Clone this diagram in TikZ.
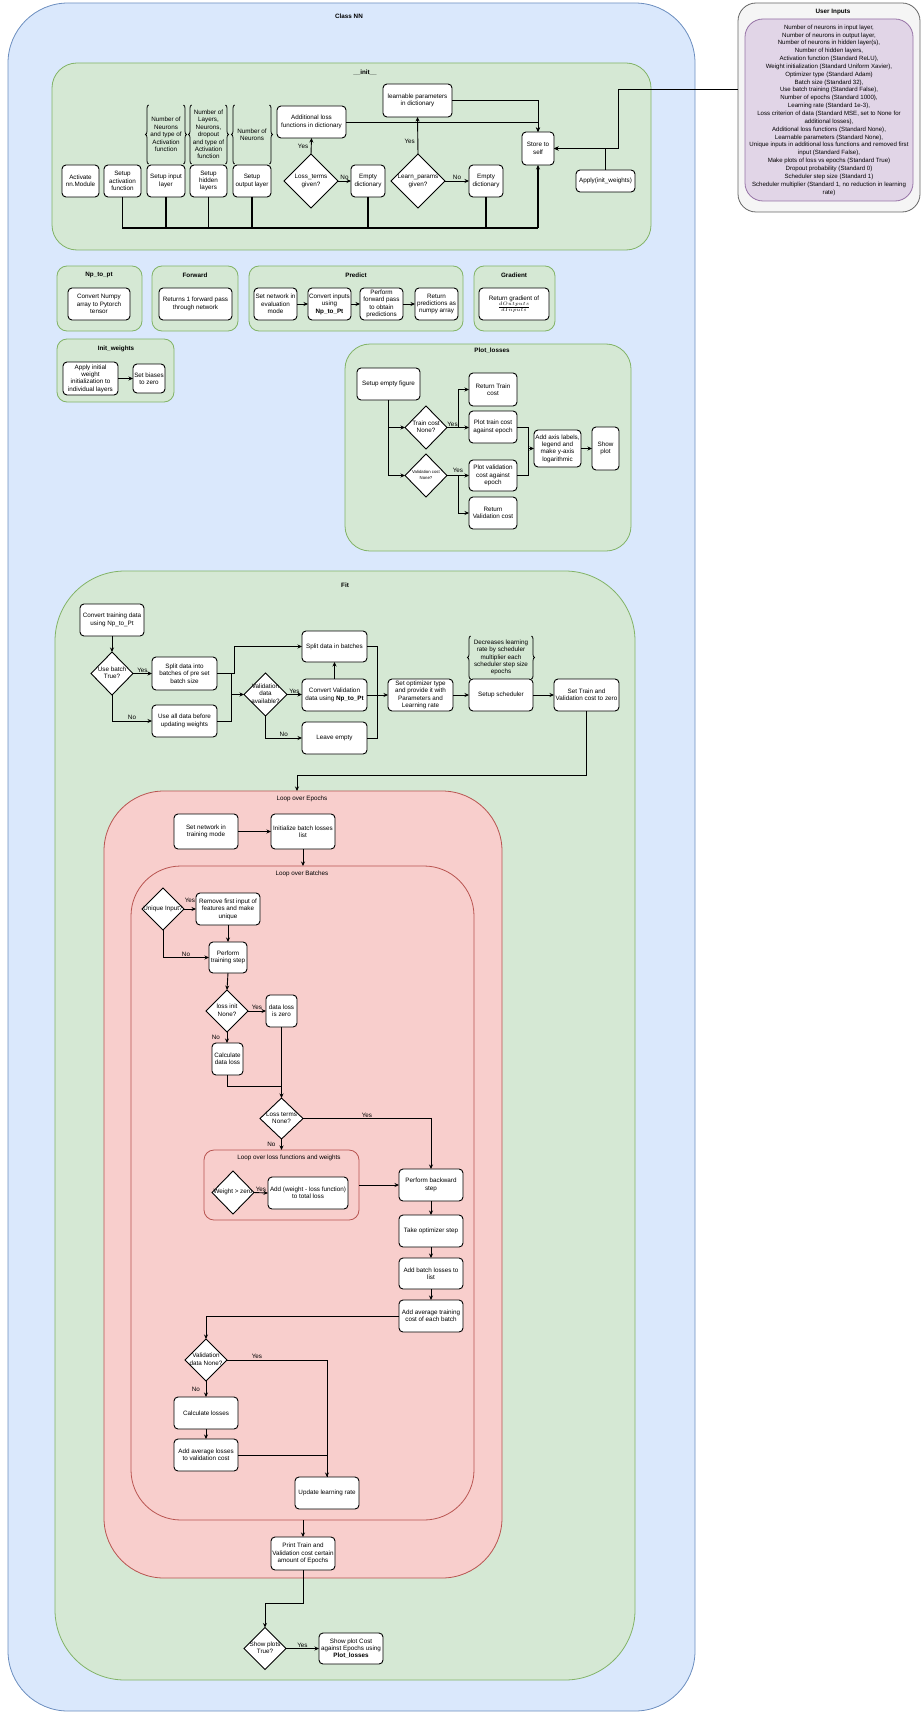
\documentclass[tikz,border=0pt]{standalone}
\usepackage{fontspec}
\setmainfont{Liberation Sans}
\usetikzlibrary{shapes.geometric,arrows.meta,decorations.pathreplacing,calc}
\definecolor{bluef}{HTML}{DAE8FC}\definecolor{blued}{HTML}{6C8EBF}
\definecolor{greenf}{HTML}{D5E8D4}\definecolor{greend}{HTML}{82B366}
\definecolor{redf}{HTML}{F8CECC}\definecolor{redd}{HTML}{B85450}
\definecolor{purpf}{HTML}{E1D5E7}\definecolor{purpd}{HTML}{9673A6}
\definecolor{grayf}{HTML}{F5F5F5}\definecolor{grayd}{HTML}{666666}
\newcommand\fs{\fontsize{6.3}{7.4}\selectfont}
\newcommand\fss{\fontsize{6.1}{7.85}\selectfont}
\newcommand\fxs{\fontsize{4.3}{5.2}\selectfont}
\newcommand\dtxt[1]{\makebox[0pt]{\begin{tabular}{@{}c@{}}#1\end{tabular}}}
\newcommand\mkbx[7][]{\node[box,#1,minimum width={#5-#3},minimum height={#6-#4}] (#2) at ({(#3+#5)/2},{(#4+#6)/2}) {#7};}
\newcommand\mkdm[7][]{\node[dia,#1,minimum width={#5},minimum height={#6}] (#2) at (#3,#4) {\dtxt{#7}};}
\newcommand\mkct[7]{\node[cont=#2,rounded corners=#7pt,minimum width={#5-#3},minimum height={#6-#4}] (#1) at ({(#3+#5)/2},{(#4+#6)/2}) {};}
\tikzset{
  every node/.style={font=\fs,outer sep=0pt},
  box/.style={draw,fill=white,rounded corners=4pt,line width=0.9pt,align=center,inner sep=1pt},
  dia/.style={draw,fill=white,diamond,line width=0.9pt,inner sep=0pt},
  cont/.style={draw=#1d,fill=#1f,line width=0.8pt,inner sep=0pt},
  ttl/.style={font=\fs\bfseries,inner sep=0pt},
  sttl/.style={font=\fs,inner sep=0pt},
  brt/.style={align=center,inner sep=0pt},
  lab/.style={font=\fs,inner sep=1pt},
  ln/.style={line width=0.9pt},
  arr/.style={ln,-{Stealth[length=4.5pt,width=4pt]}},
  bus/.style={line width=1.4pt},
  busarr/.style={line width=1.4pt,-{Stealth[length=4.5pt,width=4pt]}},
  brc/.style={decorate,decoration={brace,amplitude=3pt},line width=0.8pt},
}
\begin{document}
\begin{tikzpicture}[x=1pt,y=-1pt]
\useasboundingbox (0,0) rectangle (921,1712);
\clip (0,0) rectangle (921,1712);
% ---------- containers ----------
\mkct{classnn}{blue}{8}{3}{695}{1711}{60}
\node[ttl] (tclass) at (349,16) {Class NN};
\mkct{uio}{gray}{738}{3}{920}{212}{18}
\node[ttl] (tui) at (833,12) {User Inputs};
\node[cont=purp,rounded corners=18pt,minimum width=168,minimum height=182,align=center,font=\fss] (uii) at (829,110)
 {Number of neurons in input layer,\\Number of neurons in output layer,\\Number of neurons in hidden layer(s),\\Number of hidden layers,\\Activation function (Standard ReLU),\\Weight initialization (Standard Uniform Xavier),\\Optimizer type (Standard Adam)\\Batch size (Standard 32),\\Use batch training (Standard False),\\Number of epochs (Standard 1000),\\Learning rate (Standard 1e-3),\\Loss criterion of data (Standard MSE, set to None for\\additional losses),\\Additional loss functions (Standard None),\\Learnable parameters (Standard None),\\Unique inputs in additional loss functions and removed first\\input (Standard False),\\Make plots of loss vs epochs (Standard True)\\Dropout probability (Standard 0)\\Scheduler step size (Standard 1)\\Scheduler multiplier (Standard 1, no reduction in learning\\rate)};
\mkct{init}{green}{52}{63}{651}{250}{25}
\node[ttl] (tinit) at (365,73) {\_\_init\_\_};
\mkct{cnp}{green}{57}{266}{142}{331}{10}
\node[ttl] (tnp) at (99,275) {Np\_to\_pt};
\mkct{cfw}{green}{152}{266}{238}{331}{10}
\node[ttl] (tfw) at (195,275) {Forward};
\mkct{cpr}{green}{249}{266}{463}{331}{10}
\node[ttl] (tpr) at (356,275) {Predict};
\mkct{cgr}{green}{474}{266}{555}{331}{10}
\node[ttl] (tgr) at (514,275) {Gradient};
\mkct{ciw}{green}{57}{339}{174}{402}{10}
\node[ttl] (tiw) at (116,349) {Init\_weights};
\mkct{cpl}{green}{345}{344}{631}{551}{25}
\node[ttl] (tpl) at (492,351) {Plot\_losses};
\mkct{cfit}{green}{55}{571}{635}{1680}{70}
\node[ttl] (tfit) at (345,585) {Fit};
\mkct{cep}{red}{104}{791}{502}{1578}{60}
\node[sttl] (tep) at (302,799) {Loop over Epochs};
\mkct{cba}{red}{131}{866}{474}{1520}{50}
\node[sttl] (tba) at (302,874) {Loop over Batches};
\mkct{clf}{red}{204}{1150}{359}{1220}{10}
\node[sttl] (tlf) at (289,1158) {Loop over loss functions and weights};
% ---------- __init__ ----------
\mkbx{an}{62}{165}{99}{197}{Activate\\nn.Module}
\mkbx{sa}{104}{165}{141}{197}{Setup\\activation\\function}
\mkbx{si}{147}{165}{185}{197}{Setup input\\layer}
\mkbx{sh}{190}{165}{227}{197}{Setup\\hidden\\layers}
\mkbx{so}{233}{165}{271}{197}{Setup\\output layer}
\node[brt,minimum width=38,minimum height=59] (nb1) at (166,134.5) {Number of\\Neurons\\and type of\\Activation\\function};
\node[brt,minimum width=37,minimum height=59] (nb2) at (208.5,134.5) {Number of\\Layers,\\Neurons,\\dropout\\and type of\\Activation\\function};
\node[brt,minimum width=38,minimum height=59] (nb3) at (252,134.5) {Number of\\Neurons};
\foreach \n in {nb1,nb2,nb3}{
  \draw[brc] ([xshift=1.5pt]\n.south west) -- ([xshift=1.5pt]\n.north west);
  \draw[brc] ([xshift=-1.5pt]\n.north east) -- ([xshift=-1.5pt]\n.south east);
}
\mkbx{al}{277}{106}{346}{138}{Additional loss\\functions in dictionary}
\mkdm{ltd}{311}{181}{54}{54}{Loss\_terms\\given?}
\mkbx{ed1}{351}{165}{385}{197}{Empty\\dictionary}
\mkdm{lpd}{418}{181}{54}{54}{Learn\_params\\given?}
\mkbx{lp}{383}{84}{452}{117}{learnable parameters\\in dictionary}
\mkbx{ed2}{469}{165}{503}{197}{Empty\\dictionary}
\mkbx{st}{522}{132}{554}{165}{Store to\\self}
\mkbx{ap}{576}{170}{635}{192}{Apply(init\_weights)}
\coordinate (bus) at (0,228);
\draw[bus] (sa.south) |- (st.south |- bus);
\foreach \n in {si,sh,so,ed1,ed2}{\draw[bus] (\n.south) -- (\n.south |- bus);}
\draw[busarr] (st.south |- bus) -- (st.south);
\draw[arr] (ltd.north) -- (al.south) node[lab,midway,left=2pt] {Yes};
\draw[arr] (ltd.east) -- (ed1.west) node[lab,midway,above] {No};
\draw[arr] (lpd.north) -- (lp.south) node[lab,pos=0.35,left=2pt] {Yes};
\draw[arr] (lpd.east) -- (ed2.west) node[lab,midway,above] {No};
\draw[arr] (al.east) -| (st.north);
\draw[arr] (lp.east) -| (st.north);
\draw[arr] (ap.north) |- (st.east);
\coordinate (y89) at (0,89);
\coordinate (uj) at (618,148.5);
\draw[arr] (uio.west |- y89) -| (uj) -- (st.east);
% ---------- row 2 ----------
\mkbx{cn}{68}{288}{130}{320}{Convert Numpy\\array to Pytorch\\tensor}
\mkbx{fw}{159}{288}{232}{320}{Returns 1 forward pass\\through network}
\mkbx{pe1}{254}{288}{297}{320}{Set network in\\evaluation\\mode}
\mkbx{pe2}{308}{288}{351}{320}{Convert inputs\\using\\\textbf{Np\_to\_Pt}}
\mkbx{pe3}{360}{288}{403}{320}{Perform\\forward pass\\to obtain\\predictions}
\mkbx{pe4}{415}{288}{458}{320}{Return\\predictions as\\numpy array}
\draw[arr] (pe1.east) -- (pe2.west);
\draw[arr] (pe2.east) -- (pe3.west);
\draw[arr] (pe3.east) -- (pe4.west);
\mkbx{gr}{479}{288}{549}{320}{Return gradient of\\$\frac{dOutputs}{dInputs}$}
\mkbx{aw}{63}{362}{118}{395}{Apply initial\\weight\\initialization to\\individual layers}
\mkbx{sb}{133}{364}{165}{393}{Set biases\\to zero}
\draw[arr] (aw.east) -- (sb.west);
% ---------- Plot_losses ----------
\mkbx{sef}{357}{368}{420}{400}{Setup empty figure}
\mkdm{tcd}{426}{427.5}{42}{43}{Train cost\\None?}
\mkdm[font=\fxs]{vcd}{426}{475.5}{42}{43}{Validation cost\\None?}
\mkbx{rtc}{469}{373}{517}{406}{Return Train\\cost}
\mkbx{ptc}{469}{411}{517}{443}{Plot train cost\\against epoch}
\mkbx{pvc}{469}{460}{517}{491}{Plot validation\\cost against\\epoch}
\mkbx{rvc}{469}{497}{517}{529}{Return\\Validation cost}
\mkbx{aal}{534}{430}{581}{467}{Add axis labels,\\legend and\\make y-axis\\logarithmic}
\mkbx{shp}{592}{427}{619}{470}{Show\\plot}
\draw[ln] (sef.south) -- (sef.south |- vcd.west);
\draw[arr] (sef.south |- tcd.west) -- (tcd.west);
\draw[arr] (sef.south |- vcd.west) -- (vcd.west);
\coordinate (tj) at (458,427.5);
\coordinate (vj) at (458,475.5);
\coordinate (pj) at (528,448.5);
\draw[arr] (tcd.east) -- (tcd.east -| ptc.west) node[lab,pos=0.25,above] {Yes};
\draw[arr] (tj) |- (rtc.west);
\draw[arr] (vcd.east) -- (pvc.west) node[lab,pos=0.5,above=2pt] {Yes};
\draw[arr] (vj) |- (rvc.west);
\draw[ln] (ptc.east) -| (pj);
\draw[ln] (pvc.east) -| (pj);
\draw[arr] (pj) -- (aal.west);
\draw[arr] (aal.east) -- (aal.east -| shp.west);
% ---------- Fit ----------
\mkbx{ctd}{80}{604}{144}{636}{Convert training data\\using Np\_to\_Pt}
\mkdm{ub}{112}{673.5}{42}{43}{Use batch\\True?}
\mkbx{sdb}{152}{657}{217}{690}{Split data into\\batches of pre set\\batch size}
\mkbx{uad}{152}{705}{217}{737}{Use all data before\\updating weights}
\mkdm{vd}{265.5}{694.5}{43}{43}{Validation\\data\\available?}
\mkbx{sdib}{302}{631}{367}{662}{Split data in batches}
\mkbx{cvd}{302}{679}{367}{711}{Convert Validation\\data using \textbf{Np\_to\_Pt}}
\mkbx{le}{302}{722}{367}{754}{Leave empty}
\mkbx{sot}{388}{679}{453}{711}{Set optimizer type\\and provide it with\\Parameters and\\Learning rate}
\mkbx{ssc}{469}{679}{533}{711}{Setup scheduler}
\node[brt,minimum width=64,minimum height=43] (nb4) at (501,657.5) {Decreases learning\\rate by scheduler\\multiplier each\\scheduler step size\\epochs};
\draw[brc] ([xshift=1.5pt]nb4.south west) -- ([xshift=1.5pt]nb4.north west);
\draw[brc] ([xshift=-1.5pt]nb4.north east) -- ([xshift=-1.5pt]nb4.south east);
\mkbx{stv}{554}{679}{619}{711}{Set Train and\\Validation cost to zero}
\draw[arr] (ctd.south) -- (ub.north);
\draw[arr] (ub.east) -- (ub.east -| sdb.west) node[lab,midway,above] {Yes};
\draw[arr] (ub.south) |- (uad.west) node[lab,pos=0.75,above] {No};
\coordinate (fj0) at (234,673.5);
\coordinate (fj1) at (231,694.5);
\coordinate (fj2) at (377,695);
\draw[ln] (sdb.east) -| (fj1);
\draw[ln] (uad.east) -| (fj1);
\draw[arr] (fj1) -- (vd.west);
\draw[arr] (fj0) |- (sdib.west);
\draw[ln] (sdb.east) -- (fj0);
\draw[arr] (vd.east) -- (vd.east -| cvd.west) node[lab,midway,above] {Yes};
\draw[arr] (vd.south) |- (le.west) node[lab,pos=0.75,above] {No};
\draw[arr] (cvd.north) -- (sdib.south);
\draw[ln] (sdib.east) -| (fj2);
\draw[ln] (le.east) -| (fj2);
\draw[arr] (cvd.east) -- (sot.west);
\draw[arr] (sot.east) -- (ssc.west);
\draw[arr] (ssc.east) -- (stv.west);
\coordinate (ej) at (297,775);
\draw[arr] (stv.south) |- (ej) -- (ej |- cep.north);
% ---------- Loop over Epochs ----------
\mkbx{snt}{174}{814}{238}{849}{Set network in\\training mode}
\mkbx{ibl}{271}{814}{335}{849}{Initialize batch losses\\list}
\draw[arr] (snt.east) -- (ibl.west);
\draw[arr] (ibl.south) -- (ibl.south |- cba.north);
% ---------- Loop over Batches ----------
\mkdm{uqd}{163}{909}{42}{42}{Unique Input?}
\mkbx{rfi}{196}{893}{260}{925}{Remove first input of\\features and make\\unique}
\mkbx{pts}{209}{942}{247}{973}{Perform\\training step}
\mkdm{lin}{227}{1011}{42}{42}{loss init\\None?}
\mkbx{dlz}{266}{995}{297}{1027}{data loss\\is zero}
\mkbx{cdl}{212}{1043}{243}{1075}{Calculate\\data loss}
\mkdm{ltn}{281.5}{1118.5}{43}{41}{Loss terms\\None?}
\mkdm{wz}{233}{1192.5}{42}{43}{Weight > zero}
\mkbx{awl}{268}{1177}{348}{1209}{Add (weight - loss function)\\to total loss}
\mkbx{pbs}{399}{1169}{463}{1201}{Perform backward\\step}
\mkbx{tos}{399}{1215}{463}{1247}{Take optimizer step}
\mkbx{abl}{399}{1258}{463}{1289}{Add batch losses to\\list}
\mkbx{atc}{399}{1300}{463}{1332}{Add average training\\cost of each batch}
\mkdm{vdn}{206}{1360}{42}{42}{Validation\\data None?}
\mkbx{cls}{174}{1397}{238}{1429}{Calculate losses}
\mkbx{aav}{174}{1439}{238}{1471}{Add average losses\\to validation cost}
\mkbx{ulr}{295}{1477}{359}{1509}{Update learning rate}
\draw[arr] (uqd.east) -- (rfi.west) node[lab,midway,above=5pt] {Yes};
\draw[arr] (uqd.south) |- (pts.west) node[lab,pos=0.75,above] {No};
\draw[arr] (rfi.south) -- (pts.north);
\draw[arr] (pts.south) -- (lin.north);
\draw[arr] (lin.east) -- (lin.east -| dlz.west) node[lab,midway,above] {Yes};
\draw[arr] (lin.south) -- (lin.south |- cdl.north) node[lab,midway,left=6pt] {No};
\coordinate (dj) at (281.5,1086);
\draw[ln] (cdl.south) |- (dj);
\draw[arr] (dlz.south) -- (ltn.north);
\draw[arr] (ltn.east) -| (pbs.north) node[lab,pos=0.25,above] {Yes};
\draw[arr] (ltn.south) -- (ltn.south |- clf.north) node[lab,midway,left=5pt] {No};
\draw[arr] (wz.east) -- (awl.west) node[lab,midway,above] {Yes};
\draw[arr] (clf.east |- pbs.west) -- (pbs.west);
\draw[arr] (pbs.south) -- (tos.north);
\draw[arr] (tos.south) -- (abl.north);
\draw[arr] (abl.south) -- (atc.north);
\draw[arr] (atc.west) -| (vdn.north);
\draw[arr] (vdn.east) -| (ulr.north) node[lab,pos=0.15,above] {Yes};
\draw[arr] (vdn.south) -- (cls.north) node[lab,midway,left=5pt] {No};
\draw[arr] (cls.south) -- (aav.north);
\draw[ln] (aav.east) -| (ulr.north);
% ---------- end of epochs ----------
\mkbx{ptv}{271}{1537}{335}{1570}{Print Train and\\Validation cost certain\\amount of Epochs}
\draw[arr] (ptv.north |- cba.south) -- (ptv.north);
\mkdm{spd}{265}{1648.5}{42}{42}{Show plots\\True?}
\mkbx{spc}{319}{1633}{383}{1664}{Show plot Cost\\against Epochs using\\\textbf{Plot\_losses}}
\coordinate (sj) at (303,1603);
\draw[arr] (ptv.south) -- (sj) -| (spd.north);
\draw[arr] (spd.east) -- (spd.east -| spc.west) node[lab,midway,above] {Yes};
\end{tikzpicture}
\end{document}
